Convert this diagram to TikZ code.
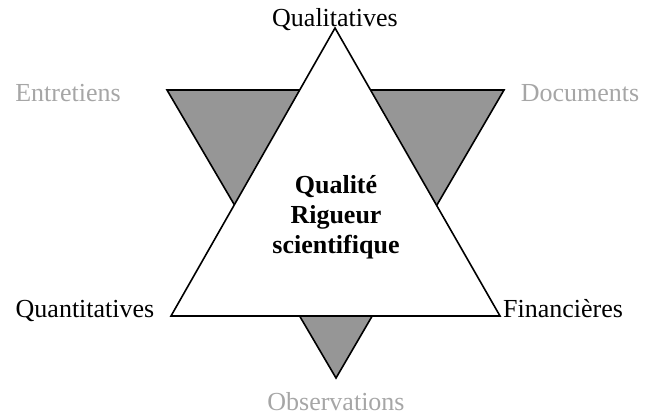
\documentclass[tikz,border=0pt]{standalone}
\usepackage{fontspec}
\setmainfont{Liberation Serif}
\begin{document}
\begin{tikzpicture}[x=0.5pt,y=-0.5pt,
  tri/.style={draw=black,line width=0.8pt,line join=miter},
  lab/.style={font=\fontsize{13}{15}\selectfont,inner sep=0pt,anchor=base},
  glab/.style={lab,text=black!35},
  center/.style={font=\fontsize{13}{15}\selectfont\bfseries,align=center,inner sep=0pt}]
\useasboundingbox (0,0) rectangle (646,417);
% downward triangle
\coordinate (d1) at (167,90);
\coordinate (d2) at (504,90);
\coordinate (d3) at (336,378);
% upward triangle
\coordinate (u1) at (335,28);
\coordinate (u2) at (171,316);
\coordinate (u3) at (500,316);
\fill[black!41] (d1) -- (d2) -- (d3) -- cycle;
\draw[tri] (d1) -- (d2) -- (d3) -- cycle;
\filldraw[tri,fill=white] (u1) -- (u2) -- (u3) -- cycle;
\node[center] (c) at (336,217) {Qualité\\Rigueur\\scientifique};
\node[lab] (q1) at (335,27) {Qualitatives};
\node[lab] (q2) at (85,317) {Quantitatives};
\node[lab] (f) at (563,317) {Financières};
\node[glab] (e) at (68,101) {Entretiens};
\node[glab] (doc) at (580,101) {Documents};
\node[glab] (o) at (336,410) {Observations};
\end{tikzpicture}
\end{document}
